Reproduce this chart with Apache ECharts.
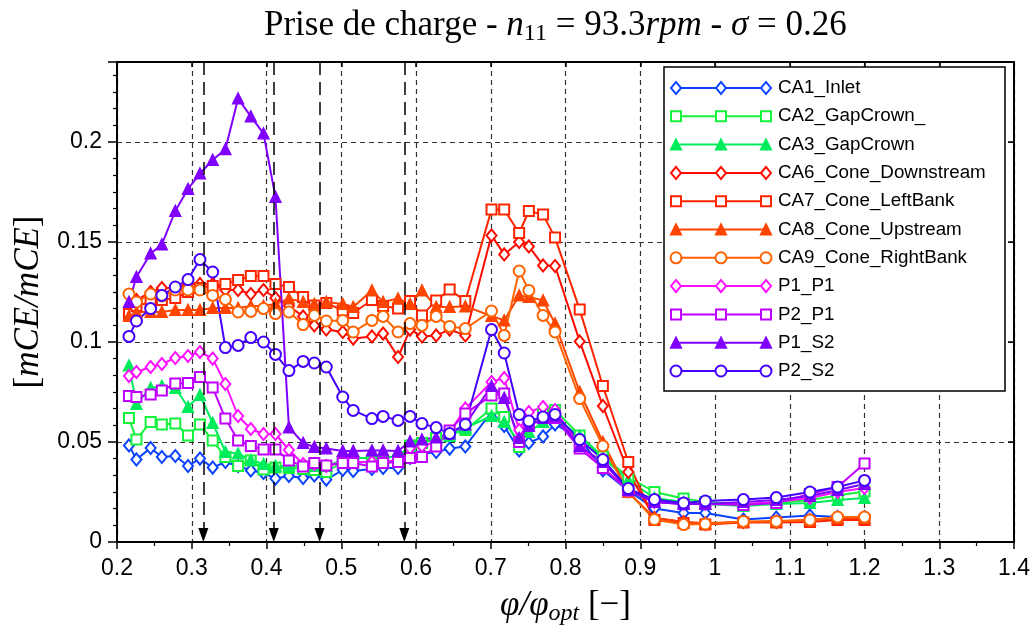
<!DOCTYPE html>
<html>
<head>
<meta charset="utf-8">
<title>Prise de charge</title>
<script src="https://cdn.jsdelivr.net/npm/echarts@6/dist/echarts.min.js"></script>
<style>
    html, body { margin: 0; padding: 0; background: #fff; }
    #main { width: 1033px; height: 632px; }
</style>
</head>
<body>
<div id="main"></div>
<script>
// débit relatif phi/phi_opt, commun à toutes les mesures
const phiRel = [0.216, 0.226, 0.245, 0.26, 0.278, 0.295, 0.311, 0.328, 0.345, 0.362, 0.379, 0.396, 0.412, 0.43, 0.449,
    0.464, 0.48, 0.502, 0.516, 0.541, 0.556, 0.576, 0.592, 0.608, 0.627, 0.645, 0.666, 0.701, 0.718, 0.738, 0.751,
    0.77, 0.786, 0.819, 0.85, 0.884, 0.919, 0.958, 0.987, 1.038, 1.082, 1.127, 1.164, 1.2];

// [mCE/mCE] pour chaque capteur
const ca1Inlet = [0.0483, 0.0413, 0.047, 0.0425, 0.043, 0.038, 0.0417, 0.0372, 0.04, 0.038, 0.0358, 0.0345, 0.0317, 0.033, 0.032,
    0.0333, 0.0312, 0.036, 0.0355, 0.0365, 0.037, 0.037, 0.042, 0.044, 0.045, 0.0467, 0.0478, 0.065, 0.058, 0.0458, 0.0495,
    0.0528, 0.0588, 0.052, 0.0358, 0.0258, 0.0167, 0.0145, 0.0145, 0.0112, 0.0122, 0.0133, 0.0125, 0.0125];
const ca2GapCrown = [0.062, 0.0512, 0.06, 0.0587, 0.0592, 0.0533, 0.0587, 0.0508, 0.0425, 0.038, 0.0408, 0.0362, 0.0372, 0.037, 0.0365,
    0.036, 0.035, 0.04, 0.04, 0.04, 0.04, 0.041, 0.0483, 0.0495, 0.052, 0.054, 0.056, 0.0667, 0.0625, 0.0475, 0.058,
    0.064, 0.066, 0.0533, 0.0428, 0.0325, 0.025, 0.0217, 0.02, 0.0188, 0.0195, 0.021, 0.0233, 0.0253];
const ca3GapCrown = [0.0883, 0.069, 0.077, 0.078, 0.077, 0.0675, 0.0735, 0.0595, 0.045, 0.0442, 0.041, 0.039, 0.038, 0.038, 0.038,
    0.038, 0.038, 0.041, 0.042, 0.042, 0.042, 0.043, 0.048, 0.05, 0.051, 0.053, 0.057, 0.063, 0.06, 0.05, 0.055,
    0.06, 0.062, 0.053, 0.042, 0.031, 0.022, 0.02, 0.019, 0.018, 0.019, 0.0195, 0.021, 0.022];
const ca6Downstream = [0.114, 0.121, 0.125, 0.127, 0.127, 0.129, 0.129, 0.129, 0.126, 0.126, 0.124, 0.126, 0.122, 0.118, 0.1128,
    0.1083, 0.1063, 0.105, 0.1017, 0.1028, 0.1042, 0.0925, 0.1062, 0.1028, 0.1033, 0.1062, 0.1033, 0.1533, 0.1438, 0.15, 0.1478,
    0.1383, 0.138, 0.1003, 0.068, 0.035, 0.012, 0.01, 0.009, 0.01, 0.01, 0.011, 0.012, 0.012];
const ca7LeftBank = [0.114, 0.118, 0.12, 0.121, 0.122, 0.125, 0.127, 0.128, 0.129, 0.131, 0.133, 0.133, 0.129, 0.1275, 0.1225,
    0.1183, 0.1195, 0.1158, 0.1145, 0.121, 0.118, 0.1167, 0.1205, 0.1133, 0.1208, 0.1262, 0.1205, 0.1662, 0.1662, 0.1545, 0.1655,
    0.1637, 0.1522, 0.1162, 0.078, 0.04, 0.011, 0.0095, 0.0088, 0.0098, 0.0098, 0.01, 0.011, 0.011];
const ca8Upstream = [0.113, 0.115, 0.115, 0.115, 0.116, 0.116, 0.116, 0.117, 0.117, 0.117, 0.118, 0.118, 0.119, 0.1217, 0.12,
    0.119, 0.12, 0.119, 0.1175, 0.1258, 0.12, 0.1217, 0.119, 0.1258, 0.1175, 0.1175, 0.1178, 0.113, 0.1108, 0.1233, 0.1225,
    0.1208, 0.1092, 0.075, 0.05, 0.025, 0.012, 0.01, 0.0095, 0.01, 0.0105, 0.011, 0.012, 0.012];
const ca9RightBank = [0.124, 0.12, 0.124, 0.123, 0.126, 0.126, 0.126, 0.1233, 0.1213, 0.115, 0.1153, 0.1167, 0.1142, 0.115, 0.1087,
    0.1133, 0.1105, 0.1108, 0.105, 0.1108, 0.1128, 0.105, 0.1092, 0.1083, 0.1128, 0.1078, 0.1067, 0.1155, 0.1033, 0.1355, 0.1258,
    0.1133, 0.105, 0.0717, 0.048, 0.025, 0.0112, 0.0087, 0.009, 0.0103, 0.0103, 0.011, 0.0125, 0.0125];
const p1P1 = [0.083, 0.085, 0.0875, 0.089, 0.092, 0.093, 0.095, 0.0917, 0.079, 0.063, 0.0565, 0.054, 0.054, 0.046, 0.039,
    0.039, 0.038, 0.04, 0.04, 0.04, 0.04, 0.041, 0.047, 0.048, 0.05, 0.055, 0.0667, 0.08, 0.082, 0.056, 0.065,
    0.0675, 0.066, 0.048, 0.037, 0.026, 0.02, 0.019, 0.019, 0.019, 0.02, 0.022, 0.025, 0.027];
const p2P1 = [0.073, 0.0725, 0.0738, 0.0758, 0.0792, 0.0795, 0.0825, 0.0772, 0.0617, 0.0508, 0.048, 0.0462, 0.0462, 0.0408, 0.0378,
    0.0395, 0.0383, 0.0395, 0.0395, 0.0378, 0.0395, 0.04, 0.042, 0.0425, 0.0478, 0.0558, 0.0642, 0.0733, 0.0742, 0.05, 0.058,
    0.062, 0.062, 0.0467, 0.037, 0.0258, 0.02, 0.019, 0.019, 0.0185, 0.0195, 0.024, 0.0275, 0.0392];
const p1S2 = [0.12, 0.1325, 0.1442, 0.1488, 0.1655, 0.1765, 0.1842, 0.191, 0.1964, 0.2217, 0.2128, 0.2042, 0.1725, 0.0573, 0.0495,
    0.0475, 0.0467, 0.0455, 0.0455, 0.0458, 0.0458, 0.0455, 0.0503, 0.0512, 0.0522, 0.0542, 0.0588, 0.078, 0.072, 0.052, 0.058,
    0.062, 0.063, 0.048, 0.04, 0.026, 0.02, 0.019, 0.019, 0.02, 0.021, 0.023, 0.026, 0.029];
const p2S2 = [0.1028, 0.1105, 0.1167, 0.1233, 0.1275, 0.1312, 0.1412, 0.135, 0.0972, 0.0983, 0.1022, 0.1, 0.0938, 0.0857, 0.0903,
    0.0895, 0.0875, 0.0725, 0.0658, 0.0617, 0.0628, 0.0608, 0.0628, 0.0592, 0.0572, 0.0542, 0.0588, 0.1062, 0.0945, 0.0637, 0.0605,
    0.0625, 0.0638, 0.0512, 0.0412, 0.0267, 0.0212, 0.0195, 0.0205, 0.0212, 0.0222, 0.025, 0.0275, 0.0308];

// points de fonctionnement repérés (flèches)
const reperes = [0.3155, 0.4097, 0.471, 0.5844];

const capteurs = [
    { name: "CA1_Inlet", values: ca1Inlet, color: "#0a42ff", symbol: "emptyDiamond", size: [10, 12] },
    { name: "CA2_GapCrown_", values: ca2GapCrown, color: "#14f23c", symbol: "emptyRect", size: 10 },
    { name: "CA3_GapCrown", values: ca3GapCrown, color: "#00ec5c", symbol: "triangle", size: 10 },
    { name: "CA6_Cone_Downstream", values: ca6Downstream, color: "#ff0a00", symbol: "emptyDiamond", size: [10, 12] },
    { name: "CA7_Cone_LeftBank", values: ca7LeftBank, color: "#ff2400", symbol: "emptyRect", size: 10 },
    { name: "CA8_Cone_Upstream", values: ca8Upstream, color: "#ff4400", symbol: "triangle", size: 10 },
    { name: "CA9_Cone_RightBank", values: ca9RightBank, color: "#ff6200", symbol: "emptyCircle", size: 11 },
    { name: "P1_P1", values: p1P1, color: "#ff10ff", symbol: "emptyDiamond", size: [10, 12] },
    { name: "P2_P1", values: p2P1, color: "#c000ff", symbol: "emptyRect", size: 10 },
    { name: "P1_S2", values: p1S2, color: "#8000ff", symbol: "triangle", size: 10 },
    { name: "P2_S2", values: p2S2, color: "#4400ff", symbol: "emptyCircle", size: 11 },
];

const serif = "Liberation Serif";
const sans = "Liberation Sans";

var myChart = echarts.init(document.getElementById("main"), null, { renderer: "canvas" });

const series = [];
capteurs.forEach((c, k) => {
    const s = {
        name: c.name,
        type: "line",
        xAxisIndex: 0,
        yAxisIndex: 0,
        data: phiRel.map((x, i) => [x, c.values[i]]),
        symbol: c.symbol,
        symbolSize: c.size,
        showAllSymbol: true,
        lineStyle: { color: c.color, width: 2 },
        itemStyle: { color: c.color, borderColor: c.color, borderWidth: 2 },
        emphasis: { disabled: true },
        z: 2,
    };
    if (k === 0) {
        // traits mixtes + flèches vers le bas
        s.markLine = {
            silent: true,
            symbol: ["none", "path://M5,-14 M5,0 L10,14 L0,14 Z"],
            symbolSize: [10, 28],
            label: { show: false },
            lineStyle: { color: "#000", width: 1.5, type: [13, 7] },
            itemStyle: { color: "#000" },
            emphasis: { disabled: true },
            data: reperes.map((x) => [{ coord: [x, 0.24] }, { coord: [x, 0] }]),
        };
    }
    series.push(s);
});

// légende façon matlab : une petite grille, trois points par ligne
capteurs.forEach((c, k) => {
    series.push({
        name: c.name + " ",
        type: "line",
        xAxisIndex: 2,
        yAxisIndex: 2,
        data: [[0, k], [0.5, k], [1, k]],
        symbol: c.symbol,
        symbolSize: c.size,
        clip: false,
        lineStyle: { color: c.color, width: 2 },
        itemStyle: { color: c.color, borderColor: c.color, borderWidth: 2 },
        emphasis: { disabled: true },
        endLabel: {
            show: true,
            formatter: c.name,
            distance: 12,
            color: "#000",
            fontFamily: sans,
            fontSize: 18.8,
        },
        z: 5,
    });
});

const tickColor = "#000";
const gridLine = { show: true, lineStyle: { type: [5, 4], color: "#333", width: 1.2 } };
const txtR = { fontFamily: serif, fontWeight: "normal", fontSize: 35, lineHeight: 40, color: "#000" };
const txtI = { fontFamily: serif, fontWeight: "normal", fontStyle: "italic", fontSize: 35, lineHeight: 40, color: "#000" };

var option = {
    animation: false,
    backgroundColor: "#fff",
    title: {
        left: 264,
        top: 6,
        padding: 0,
        text: "{r|Prise de charge - }{i|n}{s|11}{r| = 93.3}{i|rpm}{r| - }{i|σ}{r| = 0.26}",
        textStyle: {
            fontWeight: "normal",
            rich: {
                r: txtR,
                i: txtI,
                s: { fontFamily: serif, fontWeight: "normal", fontSize: 24, lineHeight: 18, verticalAlign: "bottom", color: "#000" },
            },
        },
    },
    grid: [
        { left: 117, right: 16, top: 62, bottom: 90 },
        { left: 676, top: 88, width: 90, height: 283 },
    ],
    graphic: [
        {
            type: "rect",
            z: 1,
            shape: { x: 664, y: 67, width: 341, height: 324 },
            style: { fill: "#fff", stroke: "#000", lineWidth: 1.5 },
        },
    ],
    xAxis: [
        {
            type: "value",
            gridIndex: 0,
            min: 0.2,
            max: 1.4,
            interval: 0.1,
            name: "{i|φ/φ}{s|opt}{r| [−]}",
            nameLocation: "middle",
            nameGap: 44,
            nameTextStyle: {
                rich: {
                    r: txtR,
                    i: txtI,
                    s: { fontFamily: serif, fontStyle: "italic", fontSize: 24, lineHeight: 18, verticalAlign: "bottom", color: "#000" },
                },
            },
            axisLine: { show: true, onZero: false, lineStyle: { color: "#000", width: 2 } },
            axisTick: { show: true, length: 7, lineStyle: { color: tickColor, width: 1.5 } },
            minorTick: { show: true, splitNumber: 2, length: 4, lineStyle: { color: tickColor, width: 1.2 } },
            axisLabel: { fontFamily: sans, fontSize: 23, color: "#000", margin: 15 },
            splitLine: gridLine,
        },
        {
            type: "value",
            gridIndex: 0,
            position: "top",
            min: 0.2,
            max: 1.4,
            interval: 0.1,
            axisLine: { show: true, onZero: false, lineStyle: { color: "#000", width: 2 } },
            axisTick: { show: true, inside: true, length: 5, lineStyle: { color: tickColor, width: 1.5 } },
            axisLabel: { show: false },
            splitLine: { show: false },
        },
        { type: "value", gridIndex: 1, min: 0, max: 1, show: false },
    ],
    yAxis: [
        {
            type: "value",
            gridIndex: 0,
            min: 0,
            max: 0.24,
            interval: 0.05,
            name: "{r|[}{i|mCE/mCE}{r|]}",
            nameLocation: "middle",
            nameRotate: 90,
            nameGap: 68,
            nameTextStyle: {
                rich: { r: txtR, i: txtI },
            },
            axisLine: { show: true, onZero: false, lineStyle: { color: "#000", width: 2 } },
            axisTick: { show: true, length: 9, lineStyle: { color: tickColor, width: 1.5 } },
            minorTick: { show: true, splitNumber: 6, length: 4, lineStyle: { color: tickColor, width: 1.2 } },
            axisLabel: { fontFamily: sans, fontSize: 23, color: "#000", margin: 15, showMaxLabel: false },
            splitLine: gridLine,
        },
        {
            type: "value",
            gridIndex: 0,
            position: "right",
            min: 0,
            max: 0.24,
            interval: 0.05,
            axisLine: { show: true, onZero: false, lineStyle: { color: "#000", width: 2 } },
            axisTick: { show: true, inside: true, length: 6, lineStyle: { color: tickColor, width: 1.5 } },
            axisLabel: { show: false },
            splitLine: { show: false },
        },
        { type: "value", gridIndex: 1, min: 0, max: 10, inverse: true, show: false },
    ],
    series: series,
};
myChart.setOption(option);
</script>
</body>
</html>
